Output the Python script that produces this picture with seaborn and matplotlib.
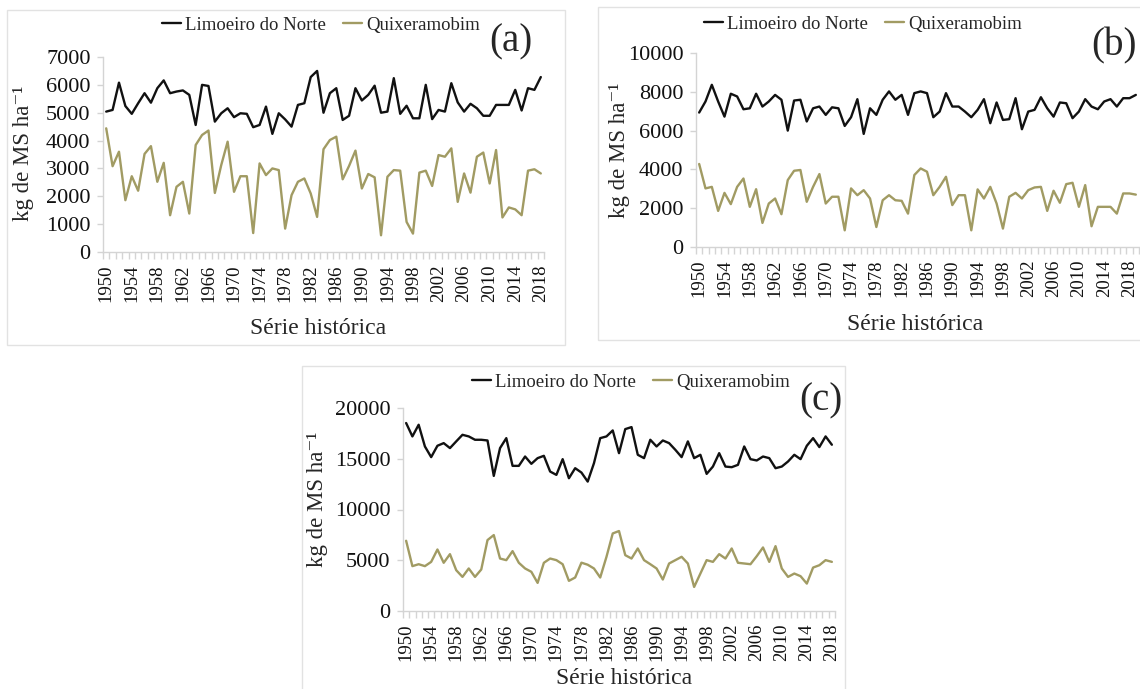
import numpy as np
import pandas as pd
import matplotlib
matplotlib.use("Agg")
import matplotlib.pyplot as plt
import seaborn as sns
from matplotlib.patches import Rectangle
from matplotlib.ticker import FixedLocator

# anos
years_ac = list(range(1950, 2019))
years_b = list(range(1950, 2020))
tick_years = list(range(1950, 2019, 4))

# (a) kg de MS ha-1
limoeiro_a = [5040, 5100, 6080, 5240, 4960, 5340, 5700, 5360, 5880, 6160,
              5700, 5760, 5800, 5640, 4560, 6000, 5960, 4680, 4980, 5160,
              4840, 4980, 4960, 4480, 4560, 5220, 4240, 4980, 4760, 4500,
              5280, 5340, 6280, 6500, 5000, 5700, 5880, 4740, 4890, 5880,
              5440, 5640, 5970, 5000, 5040, 6240, 4960, 5250, 4800, 4800,
              6000, 4770, 5100, 5040, 6060, 5370, 5040, 5320, 5160, 4890,
              4890, 5280, 5280, 5280, 5820, 5080, 5880, 5820, 6280]
quixera_a = [4440, 3080, 3600, 1860, 2720, 2200, 3520, 3800, 2520, 3200,
             1320, 2340, 2520, 1380, 3840, 4200, 4360, 2120, 3120, 3960,
             2160, 2720, 2720, 680, 3180, 2760, 3000, 2940, 840, 2040,
             2520, 2640, 2100, 1260, 3690, 4020, 4140, 2610, 3090, 3640,
             2280, 2800, 2680, 600, 2700, 2940, 2920, 1080, 660, 2850,
             2920, 2370, 3480, 3420, 3720, 1800, 2820, 2130, 3420, 3570,
             2460, 3660, 1240, 1600, 1530, 1320, 2920, 2970, 2820]

# (b)
limoeiro_b = [6930, 7500, 8360, 7500, 6720, 7900, 7760, 7100, 7150, 7900,
              7240, 7500, 7840, 7590, 6000, 7550, 7590, 6470, 7150, 7240,
              6810, 7200, 7150, 6240, 6690, 7620, 5830, 7150, 6810, 7590,
              8020, 7590, 7840, 6810, 7930, 8020, 7930, 6690, 6980, 7930,
              7240, 7240, 6980, 6690, 7070, 7620, 6380, 7450, 6550, 6590,
              7670, 6070, 6980, 7070, 7720, 7150, 6720, 7450, 7410, 6640,
              6980, 7620, 7240, 7100, 7500, 7620, 7240, 7670, 7670, 7840]
quixera_b = [4280, 3020, 3100, 1860, 2790, 2210, 3100, 3530, 2070, 2980,
             1240, 2240, 2500, 1690, 3450, 3930, 3970, 2330, 3100, 3760,
             2240, 2590, 2590, 860, 3020, 2670, 2930, 2500, 1030, 2410,
             2670, 2410, 2380, 1720, 3710, 4050, 3880, 2670, 3100, 3620,
             2160, 2670, 2670, 860, 2970, 2500, 3100, 2240, 950, 2590,
             2790, 2500, 2930, 3070, 3100, 1860, 2900, 2280, 3240, 3310,
             2070, 3190, 1070, 2070, 2070, 2070, 1720, 2760, 2760, 2700]

# (c)
limoeiro_c = [18520, 17200, 18350, 16210, 15160, 16280, 16540, 16050, 16710, 17360,
              17200, 16870, 16870, 16800, 13310, 16050, 17030, 14300, 14300, 15220,
              14500, 15060, 15290, 13740, 13410, 14960, 13080, 14070, 13640, 12750,
              14560, 17030, 17200, 17790, 15550, 17920, 18120, 15390, 15060, 16870,
              16210, 16800, 16540, 15880, 15160, 16710, 15060, 15390, 13510, 14230,
              15550, 14230, 14170, 14400, 16210, 14960, 14830, 15220, 15060, 14070,
              14230, 14730, 15390, 14960, 16280, 17030, 16150, 17200, 16380]
quixera_c = [6920, 4420, 4610, 4420, 4840, 6060, 4750, 5600, 4020, 3360,
             4190, 3360, 4090, 6990, 7480, 5170, 5010, 5900, 4750, 4190,
             3860, 2770, 4750, 5170, 5010, 4610, 2970, 3300, 4760, 4560,
             4190, 3300, 5340, 7640, 7880, 5500, 5170, 6160, 5010, 4610,
             4190, 3100, 4680, 5010, 5340, 4680, 2370, 3690, 5010, 4840,
             5600, 5170, 6160, 4750, 4680, 4610, 5400, 6260, 4840, 6390,
             4190, 3360, 3690, 3430, 2700, 4280, 4510, 5010, 4840]

BLACK = "#111111"
OLIVE = "#a19b63"
GREY = "#d4d4d4"
W, H = 1140, 689

sns.set_theme(style="white")
plt.rcParams["font.family"] = ["Liberation Serif", "DejaVu Serif"]

fig = plt.figure(figsize=(W / 100, H / 100), dpi=100)


def px_rect(left, top, right, bottom):
    return [left / W, 1 - bottom / H, (right - left) / W, (bottom - top) / H]


def draw_panel(rect, years, lim, qui, ymax, ystep, tag, tag_xy, leg_xy, ylab_xy, xlab_xy):
    ax = fig.add_axes(px_rect(*rect))
    df = pd.DataFrame({
        "ano": years + years,
        "valor": lim + qui,
        "local": ["Limoeiro do Norte"] * len(years) + ["Quixeramobim"] * len(years),
    })
    sns.lineplot(data=df, x="ano", y="valor", hue="local",
                 palette=[BLACK, OLIVE], linewidth=1.7, ax=ax)
    ax.set_xlim(years[0] - 0.5, years[-1] + 0.5)
    ax.set_ylim(0, ymax)
    ax.set_yticks(np.arange(0, ymax + 1, ystep))
    ax.set_xticks(tick_years)
    ax.xaxis.set_minor_locator(FixedLocator(np.arange(years[0] - 0.5, years[-1] + 1, 1)))
    ax.set_xlabel("")
    ax.set_ylabel("")
    for s in ["top", "right"]:
        ax.spines[s].set_visible(False)
    for s in ["left", "bottom"]:
        ax.spines[s].set_color(GREY)
        ax.spines[s].set_linewidth(1.0)
    ax.tick_params(axis="y", left=True, length=4, width=1, color=GREY,
                   labelsize=16, pad=5, labelcolor="#111111")
    ax.tick_params(axis="x", which="major", bottom=True, length=0,
                   labelsize=13.5, pad=9, labelrotation=90, labelcolor="#111111")
    ax.tick_params(axis="x", which="minor", bottom=True, length=5, width=1, color=GREY)

    handles, labels = ax.get_legend_handles_labels()
    ax.legend(handles, labels, ncol=2, loc="center left",
              bbox_to_anchor=(leg_xy[0] / W, 1 - leg_xy[1] / H),
              bbox_transform=fig.transFigure, frameon=False,
              handlelength=1.0, handletextpad=0.25, columnspacing=0.9,
              fontsize=13.5, borderpad=0, borderaxespad=0)

    fig.text(tag_xy[0] / W, 1 - tag_xy[1] / H, tag, fontsize=28,
             ha="center", va="center")
    fig.text(ylab_xy[0] / W, 1 - ylab_xy[1] / H, "kg de MS ha\u207b\u00b9",
             fontsize=16.5, rotation=90, ha="center", va="center")
    fig.text(xlab_xy[0] / W, 1 - xlab_xy[1] / H, "Série histórica",
             fontsize=17, ha="center", va="center")
    return ax


# contornos dos graficos (estilo Excel)
for (l, t, r, b) in [(7, 10, 565, 345), (598, 7, 1145, 340), (302, 366, 845, 695)]:
    fig.patches.append(Rectangle((l / W, 1 - b / H), (r - l) / W, (b - t) / H,
                                 transform=fig.transFigure, fill=False,
                                 edgecolor="#e2e2e2", linewidth=1.0))

draw_panel((103, 57, 544, 252), years_ac, limoeiro_a, quixera_a, 7000, 1000,
           "(a)", (511, 42), (162, 25), (24, 153), (318, 329))
draw_panel((696, 53, 1139, 247), years_b, limoeiro_b, quixera_b, 10000, 2000,
           "(b)", (1114, 46), (704, 24), (619, 150), (915, 325))
draw_panel((403, 408, 835, 611), years_ac, limoeiro_c, quixera_c, 20000, 5000,
           "(c)", (821, 401), (472, 382), (318, 499), (624, 679))

fig.savefig("out.png", dpi=100)
